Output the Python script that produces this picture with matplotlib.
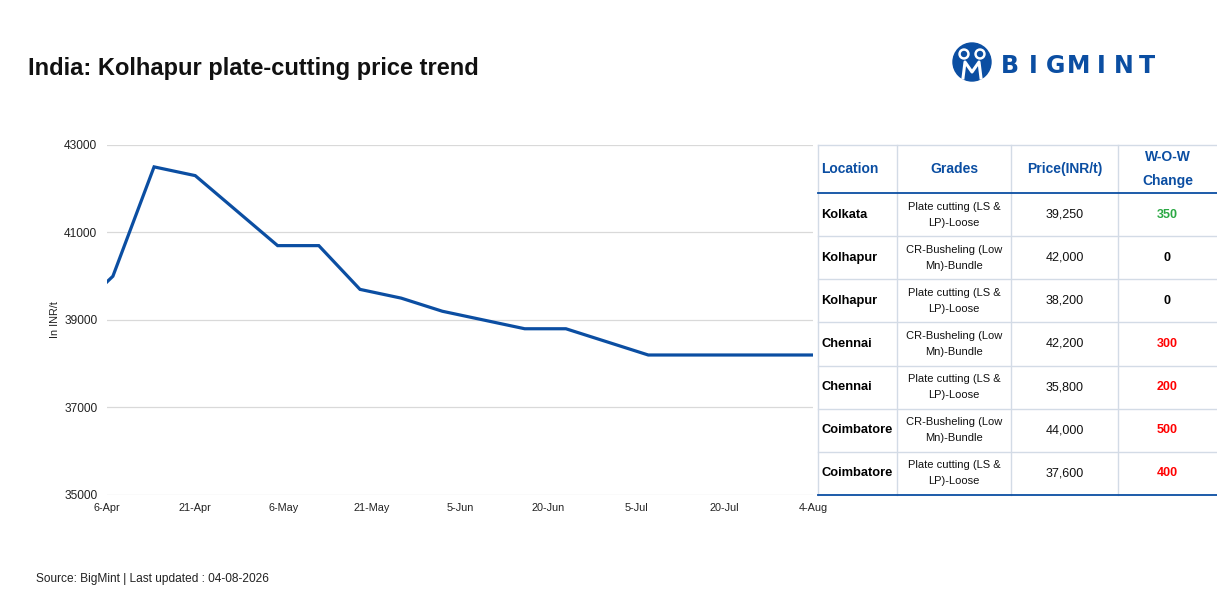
import datetime as dt
import matplotlib
matplotlib.use("Agg")
from matplotlib import pyplot as plt
from matplotlib.patches import Circle

plt.rcParams['font.family'] = ['Liberation Sans', 'DejaVu Sans']

# price series (INR/t), weekly
dates = ["2026-03-31", "2026-04-07", "2026-04-14", "2026-04-21", "2026-05-05",
         "2026-05-12", "2026-05-19", "2026-05-26", "2026-06-02", "2026-06-16",
         "2026-06-23", "2026-07-07", "2026-08-04"]
prices = [39100, 40000, 42500, 42300, 40700, 40700, 39700, 39500, 39200,
          38800, 38800, 38200, 38200]

tick_dates = ["2026-04-06", "2026-04-21", "2026-05-06", "2026-05-21", "2026-06-05",
              "2026-06-20", "2026-07-05", "2026-07-20", "2026-08-04"]
tick_labels = ["6-Apr", "21-Apr", "6-May", "21-May", "5-Jun", "20-Jun",
               "5-Jul", "20-Jul", "4-Aug"]
y_ticks = [35000, 37000, 39000, 41000, 43000]

# table
headers = ["Location", "Grades", "Price(INR/t)", "W-O-W\nChange"]
locations = ["Kolkata", "Kolhapur", "Kolhapur", "Chennai", "Chennai",
             "Coimbatore", "Coimbatore"]
grades = ["Plate cutting (LS &\nLP)-Loose", "CR-Busheling (Low\nMn)-Bundle",
          "Plate cutting (LS &\nLP)-Loose", "CR-Busheling (Low\nMn)-Bundle",
          "Plate cutting (LS &\nLP)-Loose", "CR-Busheling (Low\nMn)-Bundle",
          "Plate cutting (LS &\nLP)-Loose"]
table_prices = ["39,250", "42,000", "38,200", "42,200", "35,800", "44,000", "37,600"]
changes = ["350", "0", "0", "300", "200", "500", "400"]
change_colors = ["#2aa843", "#000000", "#000000", "#ff0000", "#ff0000",
                 "#ff0000", "#ff0000"]

BLUE = "#0b4ea2"
W, H = 1217, 613

def to_date(s):
    return dt.datetime.strptime(s, "%Y-%m-%d")

fig = plt.figure(figsize=(W / 100, H / 100), dpi=100)
fig.patch.set_facecolor("white")

# ---- line chart
ax = fig.add_axes([107 / W, 1 - 495 / H, 706 / W, 350 / H])
ax.plot([to_date(d) for d in dates], prices, color=BLUE, lw=2.3,
        solid_joinstyle="miter", zorder=3)
ax.set_xlim(to_date(tick_dates[0]), to_date(tick_dates[-1]))
ax.set_ylim(35000, 43000)
ax.set_yticks(y_ticks)
ax.set_yticklabels([str(v) for v in y_ticks], fontsize=8.6, color="#222222")
ax.set_xticks([to_date(d) for d in tick_dates])
ax.set_xticklabels(tick_labels, fontsize=7.8, color="#222222")
ax.tick_params(axis="x", length=0, pad=6)
ax.tick_params(axis="y", length=0, pad=7)
ax.grid(axis="y", color="#d9d9d9", lw=0.9)
for s in ax.spines.values():
    s.set_visible(False)
ax.set_ylabel("In INR/t", fontsize=7.8, color="#222222", labelpad=3)

# ---- title, source
fig.text(28 / W, 1 - 69 / H, "India: Kolhapur plate-cutting price trend",
         fontsize=17, fontweight="bold", va="center", ha="left", color="#111111")
fig.text(36 / W, 1 - 579 / H, "Source: BigMint | Last updated : 04-08-2026",
         fontsize=8.6, va="center", ha="left", color="#222222")

# ---- logo
lg = fig.add_axes([0, 0, 1, 1], zorder=5)
lg.set_xlim(0, W)
lg.set_ylim(H, 0)
lg.axis("off")
lg.add_patch(Circle((972, 62), 19, color=BLUE))
lg.add_patch(Circle((964, 54), 5, color="white"))
lg.add_patch(Circle((980, 54), 5, color="white"))
lg.add_patch(Circle((964, 54), 2.5, color=BLUE))
lg.add_patch(Circle((980, 54), 2.5, color=BLUE))
lg.plot([963, 965, 972, 979, 981], [78, 62, 72, 62, 78], color="white", lw=2.2)
for i, ch in enumerate("BIGMINT"):
    lg.text(1010 + i * 22.8, 66, ch, fontsize=17, fontweight="bold", color=BLUE,
            ha="center", va="center", family=["DejaVu Sans"])

# ---- table
col_x = [818, 897, 1011, 1118, 1217]
row_y = [145, 193] + [193 + 43.14 * (i + 1) for i in range(7)]
line_c = "#d3dbe6"
for x in col_x[:-1]:
    lg.plot([x, x], [row_y[0], row_y[-1]], color=line_c, lw=1)
lg.plot([col_x[0], W], [row_y[0], row_y[0]], color=line_c, lw=1)
for y in row_y[2:-1]:
    lg.plot([col_x[0], W], [y, y], color=line_c, lw=1)
lg.plot([col_x[0], W], [row_y[1], row_y[1]], color=BLUE, lw=1.3)
lg.plot([col_x[0], W], [row_y[-1], row_y[-1]], color=BLUE, lw=1.3)

hy = (row_y[0] + row_y[1]) / 2
lg.text(821, hy, headers[0], fontsize=10, fontweight="bold", color=BLUE,
        ha="left", va="center")
for j in range(1, 4):
    cx = (col_x[j] + col_x[j + 1]) / 2
    lg.text(cx, hy, headers[j], fontsize=10, fontweight="bold", color=BLUE,
            ha="center", va="center", linespacing=1.95)

for i in range(len(locations)):
    cy = (row_y[i + 1] + row_y[i + 2]) / 2
    lg.text(821, cy, locations[i], fontsize=9.3, fontweight="bold", color="#000000",
            ha="left", va="center")
    lg.text((col_x[1] + col_x[2]) / 2, cy, grades[i], fontsize=8,
            color="#111111", ha="center", va="center", linespacing=1.75)
    lg.text((col_x[2] + col_x[3]) / 2, cy, table_prices[i], fontsize=9,
            color="#111111", ha="center", va="center")
    lg.text((col_x[3] + col_x[4]) / 2, cy, changes[i], fontsize=9,
            fontweight="bold", color=change_colors[i], ha="center", va="center")

fig.savefig("out.png", dpi=100)
